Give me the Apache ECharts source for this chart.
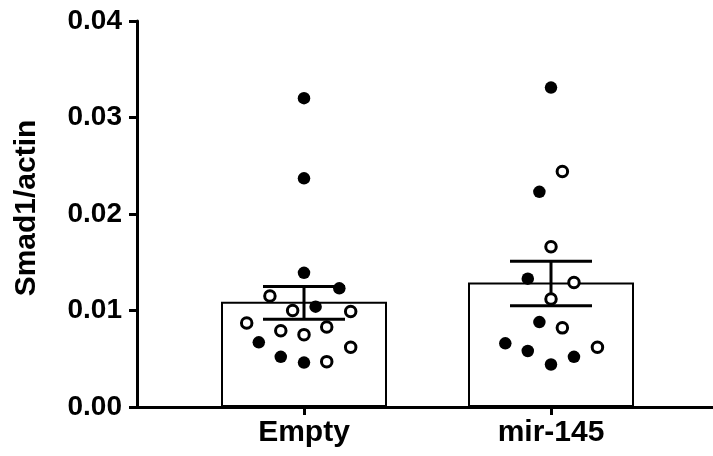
<!DOCTYPE html>
<html>
<head>
<meta charset="utf-8">
<script src="https://cdn.jsdelivr.net/npm/echarts@6/dist/echarts.min.js"></script>
<style>
  html, body { margin: 0; padding: 0; background: #fff; }
  #chart { width: 713px; height: 456px; }
</style>
</head>
<body>
<div id="chart"></div>
<script>
// groups
const categories = ["Empty", "mir-145"];
const groupPos = [1, 2];
// bar = mean, whiskers = SEM
const barMeans = [0.0109, 0.0129];
const semLow = [0.0091, 0.0105];
const semHigh = [0.0125, 0.0151];
// individual points [x jitter, value]
const filledPoints = [
  [1.0, 0.0320], [1.0, 0.0237], [1.0, 0.0139], [1.143, 0.0123], [1.047, 0.0104],
  [0.817, 0.0067], [0.906, 0.0052], [1.0, 0.0046],
  [2.0, 0.0331], [1.953, 0.0223], [1.906, 0.0133], [1.953, 0.0088], [1.815, 0.0066],
  [1.906, 0.0058], [2.093, 0.0052], [2.0, 0.0044]
];
const openPoints = [
  [0.862, 0.0115], [0.954, 0.0100], [1.189, 0.0099], [0.768, 0.0087], [0.906, 0.0079],
  [1.0, 0.0075], [1.092, 0.0083], [1.189, 0.0062], [1.092, 0.0047],
  [2.046, 0.0244], [2.0, 0.0166], [2.093, 0.0129], [2.0, 0.0112], [2.046, 0.0082],
  [2.188, 0.0062]
];

const font = "'Liberation Sans', Arial, sans-serif";
const chart = echarts.init(document.getElementById("chart"));

const option = {
  backgroundColor: "#fff",
  animation: false,
  grid: { left: 137, right: 0, top: 21, bottom: 49 },
  graphic: [{
    type: "text",
    x: 27, y: 208,
    rotation: Math.PI / 2,
    style: {
      text: "Smad1/actin",
      font: "bold 30px " + font,
      fill: "#000",
      align: "center",
      verticalAlign: "middle"
    }
  }],
  xAxis: {
    type: "value",
    min: 1 - 167 / 247,
    max: 2 + 162 / 247,
    splitLine: { show: false },
    axisLine: { lineStyle: { color: "#000", width: 3 } },
    axisTick: { customValues: groupPos, length: 8, lineStyle: { color: "#000", width: 3 } },
    axisLabel: {
      customValues: groupPos,
      formatter: v => categories[groupPos.indexOf(v)] || "",
      color: "#000", fontWeight: "bold", fontSize: 30, fontFamily: font, margin: 11
    }
  },
  yAxis: {
    type: "value",
    min: 0, max: 0.04, interval: 0.01,
    splitLine: { show: false },
    axisLine: { show: true, lineStyle: { color: "#000", width: 3 } },
    axisTick: { show: true, length: 8, lineStyle: { color: "#000", width: 3 } },
    axisLabel: {
      formatter: v => v.toFixed(2),
      color: "#000", fontWeight: "bold", fontSize: 28, fontFamily: font, margin: 15
    }
  },
  series: [
    {
      type: "bar",
      data: groupPos.map((x, i) => [x, barMeans[i]]),
      barWidth: 166,
      itemStyle: { color: "#fff", borderColor: "#000", borderWidth: 2 },
      z: 1
    },
    {
      type: "custom",
      data: groupPos.map((x, i) => [x, semLow[i], semHigh[i]]),
      renderItem: function (params, api) {
        const lo = api.coord([api.value(0), api.value(1)]);
        const hi = api.coord([api.value(0), api.value(2)]);
        const half = 41;
        const style = { stroke: "#000", lineWidth: 3 };
        return {
          type: "group",
          children: [
            { type: "line", shape: { x1: lo[0], y1: lo[1], x2: hi[0], y2: hi[1] }, style: style },
            { type: "line", shape: { x1: lo[0] - half, y1: lo[1], x2: lo[0] + half, y2: lo[1] }, style: style },
            { type: "line", shape: { x1: hi[0] - half, y1: hi[1], x2: hi[0] + half, y2: hi[1] }, style: style }
          ]
        };
      },
      z: 2
    },
    {
      type: "scatter",
      data: openPoints,
      symbol: "circle",
      symbolSize: 10.5,
      itemStyle: { color: "#fff", borderColor: "#000", borderWidth: 3, opacity: 1 },
      z: 3
    },
    {
      type: "scatter",
      data: filledPoints,
      symbol: "circle",
      symbolSize: 12.5,
      itemStyle: { color: "#000", opacity: 1 },
      z: 4
    }
  ]
};
chart.setOption(option);
</script>
</body>
</html>
